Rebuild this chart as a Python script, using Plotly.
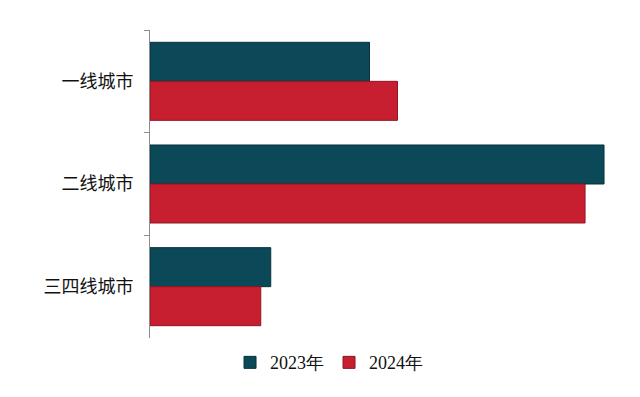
import plotly.graph_objects as go

categories = ["一线城市", "二线城市", "三四线城市"]
series_names = ["2023年", "2024年"]
values_2023 = [220, 455, 121]
values_2024 = [248, 436, 111]

colors = ["#0B4858", "#C81F30"]
edge = ["#06323D", "#8E1622"]

fig = go.Figure()
for name, vals, c, e in zip(series_names, [values_2023, values_2024], colors, edge):
    fig.add_trace(go.Bar(
        y=categories, x=vals, name=name, orientation="h",
        marker=dict(color=c, line=dict(color=e, width=1)),
    ))

fig.update_layout(
    width=640, height=397,
    margin=dict(l=150, r=25, t=30, b=59),
    paper_bgcolor="white", plot_bgcolor="white",
    barmode="group", bargap=0.24, bargroupgap=0,
    showlegend=True,
    legend=dict(orientation="h", x=0.385, xanchor="center", y=-0.02, yanchor="top",
                font=dict(family="serif", size=18, color="#111"),
                itemwidth=30, traceorder="normal"),
    xaxis=dict(visible=False, range=[0, 466]),
    yaxis=dict(autorange="reversed", showline=True, linecolor="#8C8C8C", linewidth=1,
               ticks="outside", ticklen=5, tickcolor="#8C8C8C", tickson="boundaries",
               ticklabelstandoff=12,
               tickfont=dict(family="Noto Sans CJK SC", size=18, color="#111"),
               showgrid=False, zeroline=False),
)

fig.write_html("out.html")
